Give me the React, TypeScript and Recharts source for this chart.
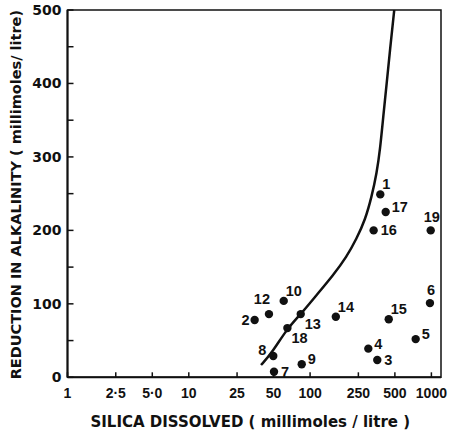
import React from 'react';
import { ComposedChart, XAxis, YAxis, Scatter, Line, ReferenceArea, Label } from 'recharts';

// Sample points (number, silica dissolved, reduction in alkalinity)
const pointLabels = ['1', '2', '3', '4', '5', '6', '7', '8', '9', '10', '12', '13', '14', '15', '16', '17', '18', '19'];
const silicaDissolved = [379, 34.9, 358, 302, 742, 973, 50.4, 49.7, 85.3, 60.6, 45.8, 83.7, 163, 445, 334, 420, 65, 987];
const alkalinityReduction = [249, 78, 23.5, 39, 52, 101, 7.6, 29, 17.7, 104, 86, 86, 82.5, 79, 200, 225, 67, 200];
// where each number label sits relative to its dot (style hint)
const labelPlacement = ['ne', 'w', 'e', 'e-up', 'e-up', 'n', 'e', 'w-up', 'e-up', 'ne', 'nw', 'se', 'ne', 'ne', 'e', 'e-up', 'se', 'n'];

// Fitted curve
const curveSilica = [39.4, 48.2, 64.9, 83.7, 113, 155, 200, 242, 284, 322, 354, 377, 401, 428, 456, 494];
const curveAlkalinity = [16.7, 32.7, 66.7, 85.8, 112, 139, 164, 189, 214, 246, 278, 309, 355, 400, 446, 500];

const xTicks = [1, 2.5, 5, 10, 25, 50, 100, 250, 500, 1000];
const xTickLabels = ['1', '2·5', '5·0', '10', '25', '50', '100', '250', '500', '1000'];
const yTicks = [0, 50, 100, 150, 200, 250, 300, 350, 400, 450, 500];
const yTickLabels = ['0', '', '100', '', '200', '', '300', '', '400', '', '500'];

const xTitle = 'SILICA DISSOLVED ( millimoles / litre )';
const yTitle = 'REDUCTION IN ALKALINITY ( millimoles/ litre)';

const points = pointLabels.map((label, i) => ({
  x: silicaDissolved[i],
  y: alkalinityReduction[i],
  label,
  place: labelPlacement[i],
}));
const curve = curveSilica.map((x, i) => ({ x, y: curveAlkalinity[i] }));

const INK = '#111';

function XTick(props: any) {
  const { x, y, payload } = props;
  const label = xTickLabels[xTicks.indexOf(payload.value)] ?? String(payload.value);
  return (
    <g>
      <line x1={x} x2={x} y1={y} y2={y - 5} stroke={INK} strokeWidth={1.5} />
      <text
        x={x}
        y={y + 21}
        textAnchor="middle"
        fontFamily="'Liberation Sans Narrow', 'Liberation Sans', sans-serif"
        fontWeight="bold"
        fontSize={14}
        fill={INK}
      >
        {label}
      </text>
    </g>
  );
}

function YTick(props: any) {
  const { x, y, payload } = props;
  const label = yTickLabels[yTicks.indexOf(payload.value)] ?? '';
  return (
    <g>
      <line x1={x} x2={x + 6} y1={y} y2={y} stroke={INK} strokeWidth={1.5} />
      {label !== '' && (
        <text
          x={x - 6}
          y={y + 5}
          textAnchor="end"
          fontFamily="'DejaVu Sans', sans-serif"
          fontWeight="bold"
          fontSize={14}
          fill={INK}
        >
          {label}
        </text>
      )}
    </g>
  );
}

function Dot(props: any) {
  const { cx, cy, payload } = props;
  if (cx == null || cy == null) return null;
  const p = payload.place;
  let tx = cx + 2;
  let ty = cy - 5;
  let anchor: 'start' | 'middle' | 'end' = 'start';
  if (p === 'ne') { tx = cx + 2; ty = cy - 5; }
  else if (p === 'e-up') { tx = cx + 6; ty = cy; }
  else if (p === 'e') { tx = cx + 7; ty = cy + 5; }
  else if (p === 'se') { tx = cx + 4; ty = cy + 15; }
  else if (p === 'n') { tx = cx + 1; ty = cy - 8.5; anchor = 'middle'; }
  else if (p === 'w') { tx = cx - 5; ty = cy + 5; anchor = 'end'; }
  else if (p === 'w-up') { tx = cx - 7; ty = cy - 1; anchor = 'end'; }
  else if (p === 'nw') { tx = cx + 1; ty = cy - 10; anchor = 'end'; }
  return (
    <g>
      <circle cx={cx} cy={cy} r={4.2} fill={INK} />
      <text
        x={tx}
        y={ty}
        textAnchor={anchor}
        fontFamily="'Liberation Sans', sans-serif"
        fontWeight="bold"
        fontSize={14.5}
        fill={INK}
      >
        {payload.label}
      </text>
    </g>
  );
}

export default function App() {
  return (
    <div style={{ position: 'absolute', left: 0, top: 0, background: '#fff' }}>
      <ComposedChart width={452} height={434} margin={{ top: 10, right: 11, bottom: 0, left: 0 }}>
        <XAxis
          dataKey="x"
          type="number"
          scale="log"
          domain={[1, 1200]}
          allowDataOverflow
          ticks={xTicks}
          interval={0}
          height={56.7}
          tickSize={0}
          tickMargin={0}
          tickLine={false}
          axisLine={{ stroke: INK, strokeWidth: 2 }}
          tick={<XTick />}
        >
          <Label
            content={(lp: any) => {
              const vb = lp.viewBox || { x: 67.5, y: 377.3, width: 373.5 };
              return (
                <text
                  x={vb.x + vb.width / 2 - 4}
                  y={vb.y + 50}
                  textAnchor="middle"
                  fontFamily="'DejaVu Sans', sans-serif"
                  fontWeight="bold"
                  fontSize={15}
                  fill={INK}
                >
                  {xTitle}
                </text>
              );
            }}
          />
        </XAxis>
        <YAxis
          dataKey="y"
          type="number"
          domain={[0, 500]}
          allowDataOverflow
          ticks={yTicks}
          interval={0}
          width={67.5}
          tickSize={0}
          tickMargin={0}
          tickLine={false}
          axisLine={{ stroke: INK, strokeWidth: 2 }}
          tick={<YTick />}
        >
          <Label
            content={(lp: any) => {
              const vb = lp.viewBox || { x: 0, y: 10, height: 367.3 };
              const cx = 21;
              const cy = vb.y + vb.height / 2 + 1;
              return (
                <text
                  transform={`translate(${cx},${cy}) rotate(-90)`}
                  x={0}
                  y={0}
                  textAnchor="middle"
                  fontFamily="'DejaVu Sans', sans-serif"
                  fontWeight="bold"
                  fontSize={14.5}
                  fill={INK}
                >
                  {yTitle}
                </text>
              );
            }}
          />
        </YAxis>
        <ReferenceArea x1={1} x2={1200} y1={0} y2={500} fill="none" stroke={INK} strokeWidth={1.5} />
        <Line
          data={curve}
          dataKey="y"
          type="basis"
          stroke={INK}
          strokeWidth={2.5}
          dot={false}
          activeDot={false}
          isAnimationActive={false}
        />
        <Scatter data={points} dataKey="y" shape={<Dot />} isAnimationActive={false} />
      </ComposedChart>
    </div>
  );
}
